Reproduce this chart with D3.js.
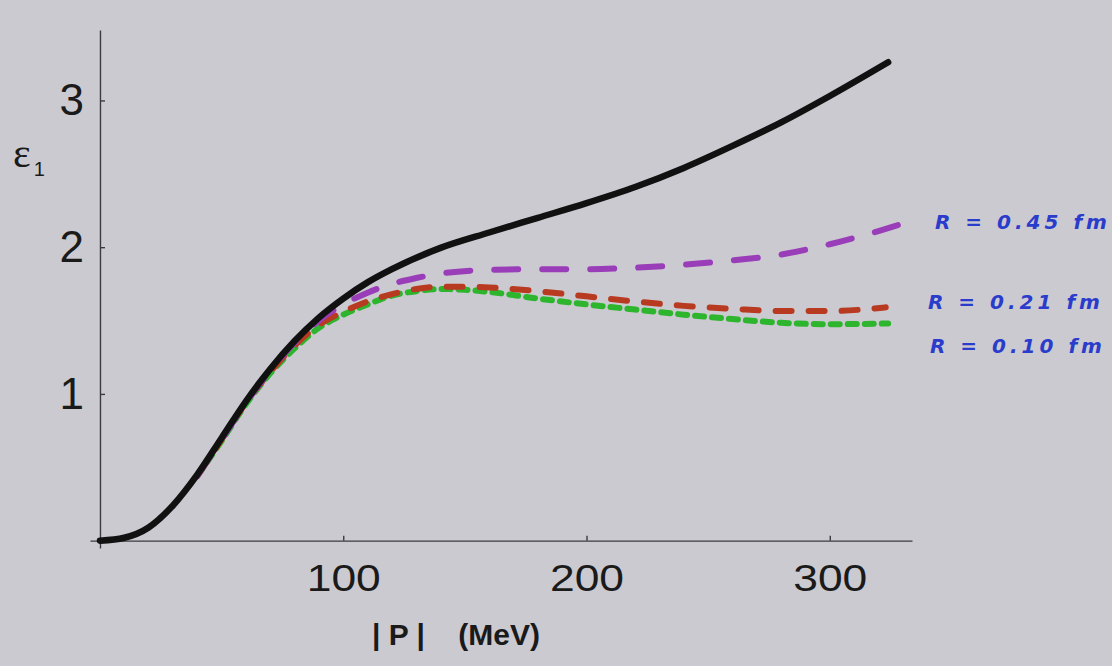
<!DOCTYPE html>
<html>
<head>
<meta charset="utf-8">
<script src="https://cdn.jsdelivr.net/npm/d3@7"></script>
<style>
  html, body { margin: 0; padding: 0; background: #cbcad0; }
  svg { display: block; }
</style>
</head>
<body>
<script>
'use strict';

var width  = 1112;
var height = 666;

// |P| in MeV, epsilon_1 values
var pFull   = [0, 10, 20, 30, 40, 50, 60, 70, 80, 90, 100, 110, 120, 140, 160, 180, 200, 220, 240, 260, 280, 300, 324];
var eFull   = [0, 0.02, 0.09, 0.24, 0.45, 0.70, 0.95, 1.17, 1.36, 1.52, 1.65, 1.76, 1.85, 1.995, 2.1, 2.2, 2.3, 2.41, 2.54, 2.69, 2.85, 3.03, 3.26];

var p045    = [40, 50, 60, 70, 80, 90, 100, 110, 120, 130, 140, 160, 180, 200, 220, 240, 260, 280, 300, 320, 328];
var e045    = [0.44, 0.69, 0.94, 1.16, 1.35, 1.50, 1.61, 1.69, 1.75, 1.79, 1.82, 1.845, 1.85, 1.85, 1.86, 1.88, 1.91, 1.95, 2.02, 2.11, 2.15];

var p021    = [40, 50, 60, 70, 80, 90, 100, 110, 120, 130, 140, 150, 160, 180, 200, 220, 240, 260, 280, 300, 323];
var e021    = [0.44, 0.69, 0.94, 1.15, 1.33, 1.47, 1.56, 1.63, 1.68, 1.715, 1.73, 1.73, 1.725, 1.70, 1.665, 1.63, 1.60, 1.58, 1.565, 1.565, 1.59];

var p010    = [40, 50, 60, 70, 80, 90, 100, 110, 120, 130, 140, 150, 160, 180, 200, 220, 240, 260, 280, 300, 324];
var e010    = [0.44, 0.68, 0.93, 1.14, 1.31, 1.45, 1.54, 1.61, 1.67, 1.70, 1.715, 1.71, 1.695, 1.65, 1.61, 1.575, 1.54, 1.51, 1.485, 1.475, 1.48];

var xTicks  = [100, 200, 300];
var yTicks  = [1, 2, 3];
var notes   = ['R = 0.45 fm', 'R = 0.21 fm', 'R = 0.10 fm'];
var noteAt  = [[935, 229], [928, 309], [930, 353]];

var svg = d3.select('body').append('svg')
    .attr('width', width)
    .attr('height', height)

svg.append('rect')
  .attr('width', width)
  .attr('height', height)
  .attr('fill', '#cbcad0');

var x = d3.scaleLinear().domain([-4.1, 333.8]).range([90, 912]);
var y = d3.scaleLinear().domain([-0.05, 3.48]).range([548, 30]);

// axes
var xAxis = d3.axisBottom(x)
    .tickValues(xTicks)
    .tickFormat(d3.format('d'))
    .tickSizeInner(-5)
    .tickSizeOuter(0)
    .tickPadding(24);

var yAxis = d3.axisLeft(y)
    .tickValues(yTicks)
    .tickFormat(d3.format('d'))
    .tickSizeInner(-5)
    .tickSizeOuter(0)
    .tickPadding(16);

var gx = svg.append('g')
  .attr('transform', 'translate(0,' + y(0) + ')')
  .call(xAxis);

var gy = svg.append('g')
  .attr('transform', 'translate(' + x(0) + ',0)')
  .call(yAxis);

[gx, gy].forEach(function(g) {
  g.select('.domain').attr('stroke', '#3a3a40').attr('stroke-width', 1.4);
  g.selectAll('.tick line').attr('stroke', '#3a3a40').attr('stroke-width', 1.4);
  g.selectAll('.tick text')
    .attr('fill', '#1a1a1a')
    .attr('font-family', 'Liberation Sans, Arial, sans-serif');
});

gx.selectAll('.tick text')
  .attr('font-size', 37)
  .attr('transform', 'scale(1.2,1)');

gy.selectAll('.tick text')
  .attr('font-size', 44);

// axis titles
var yLab = svg.append('text')
  .attr('x', 13)
  .attr('y', 167)
  .attr('font-family', 'Liberation Serif, serif')
  .attr('font-size', 42)
  .attr('fill', '#1a1a1a');
yLab.append('tspan').text('ε');
yLab.append('tspan')
  .attr('font-family', 'Liberation Sans, Arial, sans-serif')
  .attr('font-size', 20)
  .attr('dx', 3)
  .attr('dy', 9)
  .text('1');

svg.append('text')
  .attr('x', 372)
  .attr('y', 645)
  .attr('font-family', 'Liberation Sans, Arial, sans-serif')
  .attr('font-weight', 'bold')
  .attr('font-size', 30)
  .attr('fill', '#1a1a1a')
  .attr('xml:space', 'preserve')
  .text('| P |    (MeV)');

// curves
var line = d3.line()
  .x(function(d) { return x(d[0]); })
  .y(function(d) { return y(d[1]); })
  .curve(d3.curveMonotoneX);

function series(ps, es) {
  return ps.map(function(p, i) { return [p, es[i]]; });
}

var curves = [
  { pts: series(p010, e010), color: '#2eb52e', dash: '9,8',   w: 6 },
  { pts: series(p021, e021), color: '#b83a20', dash: '16,17', w: 6 },
  { pts: series(p045, e045), color: '#9a3db8', dash: '24,24', w: 6 },
  { pts: series(pFull, eFull), color: '#111111', dash: null, w: 6.5 }
];

curves.forEach(function(c) {
  svg.append('path')
    .attr('d', line(c.pts))
    .attr('fill', 'none')
    .attr('stroke', c.color)
    .attr('stroke-width', c.w)
    .attr('stroke-linecap', 'round')
    .attr('stroke-dasharray', c.dash);
});

// handwritten labels
notes.forEach(function(t, i) {
  svg.append('text')
    .attr('x', noteAt[i][0])
    .attr('y', noteAt[i][1])
    .attr('font-family', 'DejaVu Sans, sans-serif')
    .attr('font-style', 'italic')
    .attr('font-weight', 'bold')
    .attr('font-size', 20)
    .attr('letter-spacing', 4)
    .attr('fill', '#2a3ccc')
    .attr('xml:space', 'preserve')
    .text(t);
});
</script>
</body>
</html>
